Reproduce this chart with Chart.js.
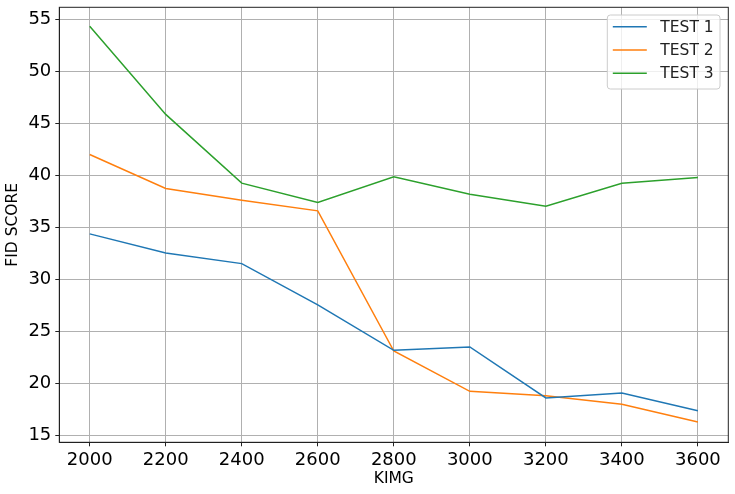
<!DOCTYPE html>
<html>
<head>
<meta charset="utf-8">
<script src="https://cdn.jsdelivr.net/npm/chart.js@4.4.1/dist/chart.umd.min.js"></script>
<style>
  html, body { margin: 0; padding: 0; background: #fff; }
  #wrap { width: 735px; height: 494px; position: relative; }
</style>
</head>
<body>
<div id="wrap"><canvas id="chart"></canvas></div>
<script>
const kimg = [2000, 2200, 2400, 2600, 2800, 3000, 3200, 3400, 3600];
const test1 = [34.36, 32.53, 31.5, 27.53, 23.17, 23.49, 18.59, 19.07, 17.37];
const test2 = [41.99, 38.72, 37.6, 36.57, 23.1, 19.23, 18.81, 17.98, 16.28];
const test3 = [54.3, 45.84, 39.23, 37.37, 39.84, 38.17, 37.02, 39.23, 39.78];
const seriesNames = ['TEST 1', 'TEST 2', 'TEST 3'];
const seriesColors = ['#1f77b4', '#ff7f0e', '#2ca02c'];

const FONT = 'DejaVu Sans, sans-serif';

function toPoints(vals) {
  return kimg.map((k, i) => ({ x: k, y: vals[i] }));
}

function onStep(v, step) {
  return Math.abs(v / step - Math.round(v / step)) < 1e-6;
}

// matplotlib style: box round the axes + legend inside the plot
const framePlugin = {
  id: 'frame',
  afterDraw(chart) {
    const { ctx, chartArea: a } = chart;
    ctx.save();
    ctx.strokeStyle = '#222';
    ctx.lineWidth = 1;
    ctx.strokeRect(a.left, a.top, a.right - a.left, a.bottom - a.top);

    // legend
    const w = 112.7, h = 74;
    const x0 = a.right - 8.3 - w, y0 = a.top + 7.7;
    ctx.beginPath();
    ctx.roundRect(x0, y0, w, h, 3);
    ctx.fillStyle = 'rgba(255,255,255,0.8)';
    ctx.fill();
    ctx.strokeStyle = '#cccccc';
    ctx.stroke();
    ctx.font = '15.5px ' + FONT;
    ctx.textBaseline = 'middle';
    chart.data.datasets.forEach((ds, i) => {
      const yy = y0 + 11.7 + i * 23.3;
      ctx.beginPath();
      ctx.moveTo(x0 + 5.5, yy);
      ctx.lineTo(x0 + 39.5, yy);
      ctx.strokeStyle = ds.borderColor;
      ctx.lineWidth = 1.5;
      ctx.stroke();
      ctx.fillStyle = '#222';
      ctx.fillText(ds.label, x0 + 53, yy + 1);
    });
    ctx.restore();
  }
};

const ctx = document.getElementById('chart').getContext('2d');
new Chart(ctx, {
  type: 'line',
  data: {
    datasets: [test1, test2, test3].map((vals, i) => ({
      label: seriesNames[i],
      data: toPoints(vals),
      borderColor: seriesColors[i],
      backgroundColor: seriesColors[i],
      borderWidth: 1.5,
      pointRadius: 0,
      tension: 0,
      fill: false
    }))
  },
  options: {
    responsive: true,
    maintainAspectRatio: false,
    animation: false,
    layout: { padding: { left: 0, right: 6.7, top: 7.3, bottom: 0 } },
    plugins: {
      legend: { display: false },
      tooltip: { enabled: false }
    },
    scales: {
      x: {
        type: 'linear',
        min: 1920,
        max: 3680,
        afterBuildTicks(scale) {
          scale.ticks = kimg.map(v => ({ value: v }));
        },
        afterFit(scale) {
          scale.height = 51.7;
          scale.paddingLeft = 0;
          scale.paddingRight = 0;
        },
        ticks: {
          stepSize: 200,
          includeBounds: false,
          autoSkip: false,
          maxRotation: 0,
          padding: 3,
          color: '#000',
          font: { family: FONT, size: 18 },
          callback: v => String(v)
        },
        grid: { color: '#b0b0b0', lineWidth: 1, tickColor: '#222', tickLength: 4, tickWidth: 1 },
        border: { color: '#222', width: 1 },
        title: {
          display: true,
          text: 'KIMG',
          color: '#000',
          font: { family: FONT, size: 15.5 },
          padding: { top: 0, bottom: 6 }
        }
      },
      y: {
        min: 14.33,
        max: 56.13,
        afterBuildTicks(scale) {
          scale.ticks = scale.ticks.filter(t => onStep(t.value, 5));
        },
        afterFit(scale) {
          scale.width = 59.3;
          scale.paddingTop = 0;
          scale.paddingBottom = 0;
        },
        ticks: {
          stepSize: 5,
          includeBounds: false,
          autoSkip: false,
          padding: 4,
          color: '#000',
          font: { family: FONT, size: 18 },
          callback: v => String(Math.round(v))
        },
        grid: { color: '#b0b0b0', lineWidth: 1, tickColor: '#222', tickLength: 4, tickWidth: 1 },
        border: { color: '#222', width: 1 },
        title: {
          display: true,
          text: 'FID SCORE',
          color: '#000',
          font: { family: FONT, size: 15.5 },
          padding: { top: 4, bottom: 0 }
        }
      }
    }
  },
  plugins: [framePlugin]
});
</script>
</body>
</html>
